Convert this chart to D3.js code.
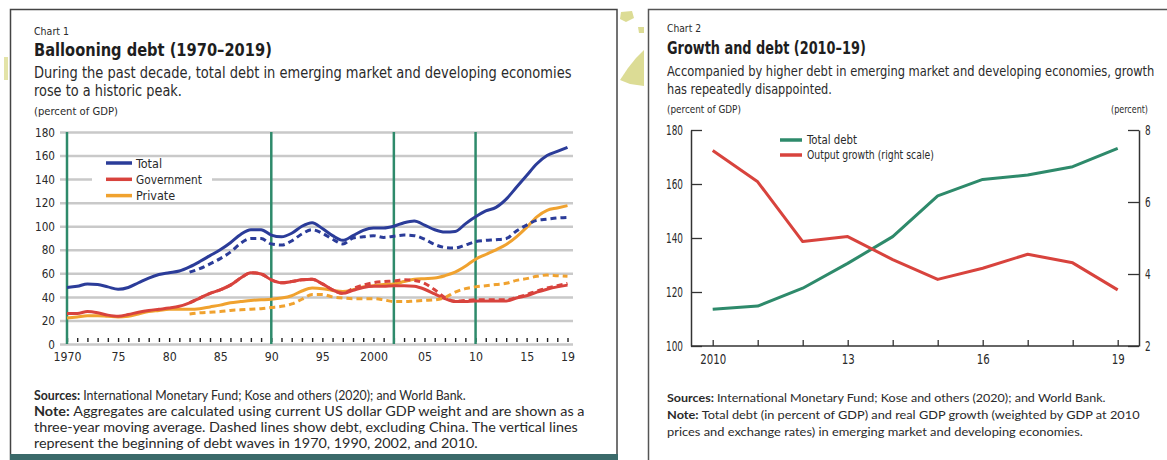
<!DOCTYPE html>
<html><head><meta charset="utf-8">
<script src="https://cdn.jsdelivr.net/npm/d3@7"></script>
<style>body{margin:0;background:#fff}svg{display:block}</style>
</head><body>
<svg id="c" width="1167" height="460"></svg>
<script>
// ---------- Chart 1 data ----------
const years1 = [1970,1971,1972,1973,1974,1975,1976,1977,1978,1979,1980,1981,1982,1983,1984,1985,1986,1987,1988,1989,
 1990,1991,1992,1993,1994,1995,1996,1997,1998,1999,2000,2001,2002,2003,2004,2005,2006,2007,2008,2009,
 2010,2011,2012,2013,2014,2015,2016,2017,2018,2019];
const totalDebt = [48,49,51,50.5,48.5,46.5,48,52,56,59,60.5,62,65.5,70,75,80,86,93,97,97,
 92.5,91,94,100,103,98,92,88,92,96.5,98.5,98.5,100,103,104.5,101,97,95,95.5,102,
 108,113,116,123,133,143,153,160,163.5,167];
const govDebt = [26,26,27.5,26.5,24.5,23.5,25,27,28.5,29.5,30.5,32,35,39,43,46,50,56,60.5,59.5,
 54.5,52,53,54.5,55,51,46,43,45.5,48,49,49,49.5,49.5,49,46.5,42.5,38.5,36,36,
 36.5,36.5,36.5,36.5,39,41,44,46.5,48.5,50];
const privDebt = [22,23,24,24,23.5,23,23.5,25.5,27.5,28.5,29.5,29.5,29.5,30,31.5,33,35,36,37,37.5,
 38,39,41,45,47.5,47,45.5,44.5,46,48.5,49.5,50.5,51,53,55,55.5,56,58,61,66,
 72,76,80,84.5,91,99,108,113.5,115.5,117.5];
// excluding China (dashed), from 1982
const totalExChina = [null,null,null,null,null,null,null,null,null,null,null,null,61,64,68,72.5,78,85.5,89.5,89.5,
 85,84,87.5,93.5,97,94,89,85,90,91,92,90.5,91.5,92.5,92,89,84.5,82,81.5,84,
 87,88,88.5,89.5,96,101,105,106,107,107.5];
const govExChina = [null,null,null,null,null,null,null,null,null,null,null,null,35,39,43,46,50,56,60.5,59.5,
 54.5,52,53,54.5,55,51,46,43,47,50,52,53,53.5,54.5,54,51.5,46,39.5,36.5,37,
 37.5,37.5,37.5,37.5,39.5,42,45,47.5,49.5,51.5];
const privExChina = [null,null,null,null,null,null,null,null,null,null,null,null,25.5,26.5,27,27.5,28.5,29,29.5,30,
 31,32,34,38,42,42,40,39,38.5,38.5,38.5,37.5,36,36,36.5,37,37.5,39.5,44,47,
 48.5,49.5,50.5,51.5,54,55.5,57.5,58.5,58,57.5];
const yTicks1 = [0,20,40,60,80,100,120,140,160,180];
const xLabelYears1 = [1970,1975,1980,1985,1990,1995,2000,2005,2010,2015,2019];
const xLabels1 = ["1970","75","80","85","90","95","2000","05","10","15","19"];
const waveYears = [1970,1990,2002,2010];
const legend1 = ["Total","Government","Private"];

// ---------- Chart 2 data ----------
const years2 = [2010,2011,2012,2013,2014,2015,2016,2017,2018,2019];
const totalDebt2 = [113.6,114.8,121.4,130.6,140.5,155.6,161.7,163.3,166.4,173.2];
const outputGrowth = [7.43,6.56,4.90,5.04,4.40,3.85,4.16,4.55,4.31,3.56];
const yTicksL2 = [100,120,140,160,180];
const yTicksR2 = [2,4,6,8];
const xLabels2 = {2010:"2010",2013:"13",2016:"16",2019:"19"};
const legend2 = ["Total debt","Output growth (right scale)"];

// ---------- style ----------
const NARROW = "'Liberation Sans Narrow','Arial Narrow','DejaVu Sans Condensed','Roboto Condensed',sans-serif";
const REG = "Lato,'Open Sans','Noto Sans',sans-serif";
const C_BLUE = "#2b3c99", C_RED = "#d8433d", C_ORANGE = "#f0a22f", C_GREEN = "#2e8a6b";
const TXT = "#2a2a2a";

const svg = d3.select("#c");

// decorations (background map fragments)
svg.append("path").attr("d","M620,80 L628,68 L636,58 L644,50 L644,86 L630,84 Z").attr("fill","#dcdc95");
svg.append("path").attr("d","M621,12 L632,11 L634,18 L626,22 L620,19 Z").attr("fill","#dcdc95");
svg.append("path").attr("d","M638,27 L644,27 L644,33 L639,33 Z").attr("fill","#dcdc95");
svg.append("rect").attr("x",4).attr("y",57).attr("width",4).attr("height",23).attr("fill","#e3e3a8");

// panels
svg.append("rect").attr("x",10.5).attr("y",9.5).attr("width",606.5).attr("height",460)
  .attr("fill","#fff").attr("stroke","#444").attr("stroke-width",1.5);
svg.append("rect").attr("x",10).attr("y",454).attr("width",608).attr("height",6).attr("fill","#3b6a6a");
svg.append("rect").attr("x",648.5).attr("y",9.5).attr("width",540).attr("height",470)
  .attr("fill","#fff").attr("stroke","#555").attr("stroke-width",1.5);

function addText(x, y, parts, o) {
  o = o || {};
  const t = svg.append("text")
    .attr("font-family", o.family || NARROW)
    .attr("font-size", o.size || 12)
    .attr("fill", o.fill || TXT)
    .attr("text-anchor", o.anchor || "start");
  parts.forEach(p => t.append("tspan").attr("font-weight", p[1] ? 700 : 400).text(p[0]));
  let k = 1;
  if (o.width) { const w = t.node().getComputedTextLength(); k = o.width / w; }
  t.attr("transform", `translate(${x},${y}) scale(${k},1)`);
  return t;
}

function measureK(sel, target, sample) {
  let w = null;
  sel.each(function(){ if (d3.select(this).text() === sample) w = this.getComputedTextLength(); });
  return w ? target / w : 1;
}
function applyK(sel, k) {
  sel.each(function(){
    const t = d3.select(this); const x = +t.attr("x") || 0;
    t.attr("x", x / k).attr("transform", `scale(${k},1)`);
  });
}

// ---------- Chart 1 headings ----------
addText(34, 35, [["Chart 1"]], {size: 11, width: 35});
addText(34, 56, [["Ballooning debt (1970\u20132019)", true]], {size: 18, width: 238, fill: "#1e1e1e"});
addText(34, 78, [["During the past decade, total debt in emerging market and developing economies"]], {size: 15, width: 538});
addText(34, 96, [["rose to a historic peak."]], {size: 15, width: 148});
addText(34, 115, [["(percent of GDP)"]], {size: 11, width: 84});

// ---------- Chart 1 plot ----------
const x1 = d3.scaleLinear().domain([1970, 2019]).range([67, 567.5]);
const y1 = d3.scaleLinear().domain([0, 180]).range([344, 132]);

const gy1 = svg.append("g").attr("transform", "translate(60,0)")
  .call(d3.axisLeft(y1).tickValues(yTicks1).tickSize(-513).tickPadding(5).tickFormat(d3.format("d")));
gy1.select(".domain").remove();
gy1.selectAll(".tick line").attr("stroke", "#c9c9c9").attr("stroke-width", 2.5);
gy1.selectAll(".tick text").attr("font-family", NARROW).attr("font-size", 13).attr("fill", TXT);
applyK(gy1.selectAll(".tick text"), measureK(gy1.selectAll(".tick text"), 20, "180"));

const gx1 = svg.append("g").attr("transform", "translate(0,344)")
  .call(d3.axisBottom(x1).tickValues(xLabelYears1).tickSize(0).tickPadding(8)
    .tickFormat((d, i) => xLabels1[i]));
gx1.select(".domain").remove();
gx1.selectAll(".tick text").attr("font-family", NARROW).attr("font-size", 13).attr("fill", TXT);
applyK(gx1.selectAll(".tick text"), measureK(gx1.selectAll(".tick text"), 28, "1970"));

const gt1 = svg.append("g").attr("transform", "translate(0,342)")
  .call(d3.axisBottom(x1).tickValues(years1).tickSize(-4).tickFormat(""));
gt1.select(".domain").remove();
gt1.selectAll(".tick line").attr("stroke", "#222").attr("stroke-width", 1.4);

svg.append("g").selectAll("line").data(waveYears).join("line")
  .attr("x1", d => x1(d)).attr("x2", d => x1(d))
  .attr("y1", y1(180)).attr("y2", y1(0))
  .attr("stroke", C_GREEN).attr("stroke-width", 2.5);

function drawLine(vals, color, dashed) {
  const line = d3.line().defined(d => d[1] != null)
    .x(d => x1(d[0])).y(d => y1(d[1])).curve(d3.curveMonotoneX);
  svg.append("path").datum(years1.map((yr, i) => [yr, vals[i]]))
    .attr("d", line).attr("fill", "none").attr("stroke", color)
    .attr("stroke-width", 3).attr("stroke-linejoin", "round")
    .attr("stroke-dasharray", dashed ? "6,4" : null);
}
drawLine(privDebt, C_ORANGE, false);
drawLine(govDebt, C_RED, false);
drawLine(totalDebt, C_BLUE, false);
drawLine(privExChina, C_ORANGE, true);
drawLine(govExChina, C_RED, true);
drawLine(totalExChina, C_BLUE, true);

// legend 1
svg.append("rect").attr("x", 92).attr("y", 158).attr("width", 120).attr("height", 42).attr("fill", "#fff");
const legColors1 = [C_BLUE, C_RED, C_ORANGE];
legend1.forEach((name, i) => {
  const ly = 163 + i * 16.3;
  svg.append("line").attr("x1", 106).attr("x2", 132).attr("y1", ly).attr("y2", ly)
    .attr("stroke", legColors1[i]).attr("stroke-width", 3.5);
  addText(136, ly + 4.5, [[name]], {size: 12.5, width: i === 1 ? 66 : null});
});

// notes 1
addText(34, 400, [["Sources: ", true], ["International Monetary Fund; Kose and others (2020); and World Bank."]], {family: REG, size: 12.5, width: 432});
addText(34, 416, [["Note: ", true], ["Aggregates are calculated using current US dollar GDP weight and are shown as a"]], {family: REG, size: 12.5, width: 551});
addText(34, 432, [["three-year moving average. Dashed lines show debt, excluding China. The vertical lines"]], {family: REG, size: 12.5, width: 544});
addText(34, 448, [["represent the beginning of debt waves in 1970, 1990, 2002, and 2010."]], {family: REG, size: 12.5, width: 444});

// ---------- Chart 2 headings ----------
addText(667, 32, [["Chart 2"]], {size: 11, width: 34});
addText(667, 54, [["Growth and debt (2010\u201319)", true]], {size: 18, width: 199, fill: "#1e1e1e"});
addText(667, 76, [["Accompanied by higher debt in emerging market and developing economies, growth"]], {size: 14.5, width: 488});
addText(667, 94, [["has repeatedly disappointed."]], {size: 14.5, width: 165});
addText(667, 113, [["(percent of GDP)"]], {size: 11, width: 74});
addText(1148, 113, [["(percent)"]], {size: 11, width: 37, anchor: "end"});

// ---------- Chart 2 plot ----------
const x2 = d3.scaleLinear().domain([2010, 2019]).range([712.7, 1117.7]);
const yL = d3.scaleLinear().domain([100, 180]).range([346, 130]);
const yR = d3.scaleLinear().domain([2, 8]).range([346, 130]);

const gL = svg.append("g").attr("transform", "translate(691,0)")
  .call(d3.axisLeft(yL).tickValues(yTicksL2).tickSize(-11).tickSizeOuter(0).tickPadding(8).tickFormat(d3.format("d")));
const gR = svg.append("g").attr("transform", "translate(1139,0)")
  .call(d3.axisRight(yR).tickValues(yTicksR2).tickSize(-11).tickSizeOuter(0).tickPadding(6).tickFormat(d3.format("d")));
const gB = svg.append("g").attr("transform", "translate(0,346)")
  .call(d3.axisBottom(x2).tickValues(years2).tickSize(-6).tickSizeOuter(0).tickPadding(8)
    .tickFormat(d => xLabels2[d] || ""));
gB.select(".domain").remove();
svg.append("line").attr("x1", 691).attr("x2", 1139).attr("y1", 346).attr("y2", 346)
  .attr("stroke", "#333").attr("stroke-width", 1.5);
[gL, gR, gB].forEach(g => {
  g.selectAll(".domain").attr("stroke", "#333").attr("stroke-width", 1.5);
  g.selectAll(".tick line").attr("stroke", "#333").attr("stroke-width", 1.3);
  g.selectAll(".tick text").attr("font-family", NARROW).attr("font-size", 13.5).attr("fill", TXT);
});
const k2 = measureK(gL.selectAll(".tick text"), 17, "180");
applyK(gL.selectAll(".tick text"), k2);
applyK(gR.selectAll(".tick text"), k2);
applyK(gB.selectAll(".tick text"), measureK(gB.selectAll(".tick text"), 26, "2010"));

const line2L = d3.line().x((d, i) => x2(years2[i])).y(d => yL(d));
const line2R = d3.line().x((d, i) => x2(years2[i])).y(d => yR(d));
svg.append("path").datum(totalDebt2).attr("d", line2L).attr("fill", "none")
  .attr("stroke", C_GREEN).attr("stroke-width", 3).attr("stroke-linejoin", "round");
svg.append("path").datum(outputGrowth).attr("d", line2R).attr("fill", "none")
  .attr("stroke", C_RED).attr("stroke-width", 3).attr("stroke-linejoin", "round");

const legColors2 = [C_GREEN, C_RED];
legend2.forEach((name, i) => {
  const ly = 140 + i * 15;
  svg.append("line").attr("x1", 780).attr("x2", 802).attr("y1", ly).attr("y2", ly)
    .attr("stroke", legColors2[i]).attr("stroke-width", 3.5);
  addText(807, ly + 4, [[name]], {size: 12, width: i === 1 ? 127 : 50});
});

// notes 2
addText(667, 402, [["Sources: ", true], ["International Monetary Fund; Kose and others (2020); and World Bank."]], {family: REG, size: 12, width: 439});
addText(667, 419, [["Note: ", true], ["Total debt (in percent of GDP) and real GDP growth (weighted by GDP at 2010"]], {family: REG, size: 12, width: 473});
addText(667, 436, [["prices and exchange rates) in emerging market and developing economies."]], {family: REG, size: 12, width: 416});
</script>
</body></html>
